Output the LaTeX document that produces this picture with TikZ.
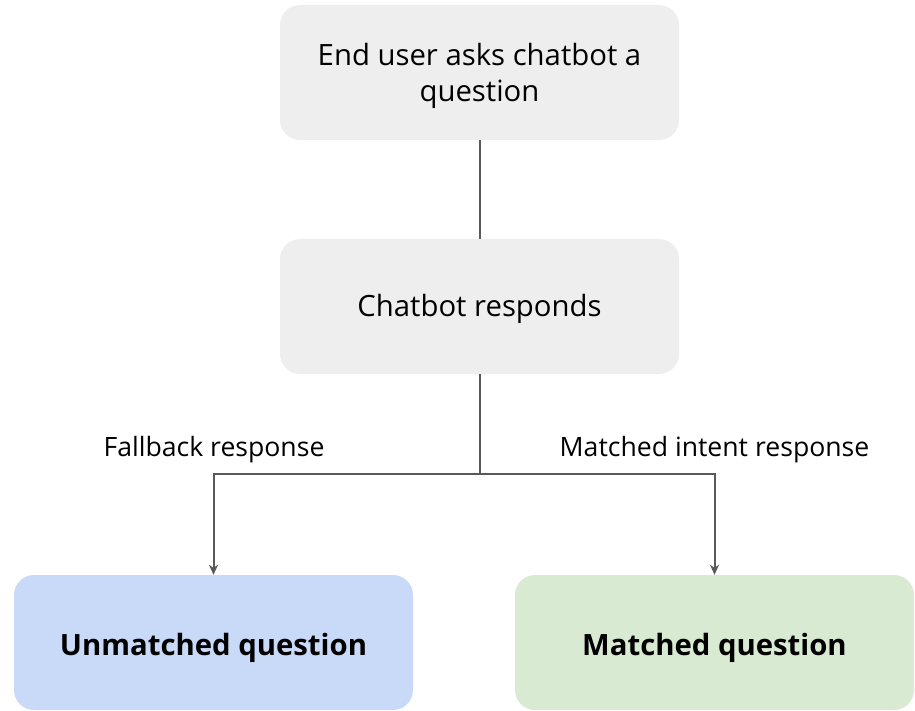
\documentclass[tikz,border=0pt]{standalone}
\usepackage{fontspec}
\setmainfont{Open Sans}
\usetikzlibrary{arrows.meta}
\definecolor{boxgray}{HTML}{EEEEEE}
\definecolor{boxblue}{HTML}{C9DAF8}
\definecolor{boxgreen}{HTML}{D9EAD3}
\definecolor{linegray}{HTML}{595959}
\tikzset{
  box/.style={rounded corners=20pt, minimum width=399pt, minimum height=135pt, inner sep=0pt, align=center, text=black},
  txt/.style={font=\fontsize{29.3}{36}\selectfont, text=black, align=center, inner sep=0pt},
  conn/.style={draw=linegray, line width=2pt},
  arr/.style={conn, -{Stealth[length=10pt,width=9pt,inset=3pt]}},
  lbl/.style={font=\fontsize{26.6}{32}\selectfont, text=black}
}
\begin{document}
\begin{tikzpicture}[x=1pt,y=-1pt]
\useasboundingbox (0,0) rectangle (915,711);
\node[box, fill=boxgray] (ask) at (479.5,72.5) {};
\node[txt] (askt) at (479.5,75.5) {End user asks chatbot a\\question};
\node[box, fill=boxgray] (resp) at (479.5,306.5) {};
\node[txt] (respt) at (479.5,309) {Chatbot responds};
\node[box, fill=boxblue] (unm) at (213.5,642.5) {};
\node[txt, font=\fontsize{29.3}{36}\selectfont\bfseries] (unmt) at (213.5,648) {Unmatched question};
\node[box, fill=boxgreen] (mat) at (714.5,642.5) {};
\node[txt, font=\fontsize{29.3}{36}\selectfont\bfseries] (matt) at (714.5,648) {Matched question};
\coordinate (split) at (479.5,474);
\draw[conn] (ask.south) -- (resp.north);
\draw[conn] (resp.south) -- (split);
\draw[arr] (split) -| (unm.north);
\draw[arr] (split) -| (mat.north);
\node[lbl] (fb) at (214,450) {Fallback response};
\node[lbl] (mi) at (714.5,450) {Matched intent response};
\end{tikzpicture}
\end{document}
